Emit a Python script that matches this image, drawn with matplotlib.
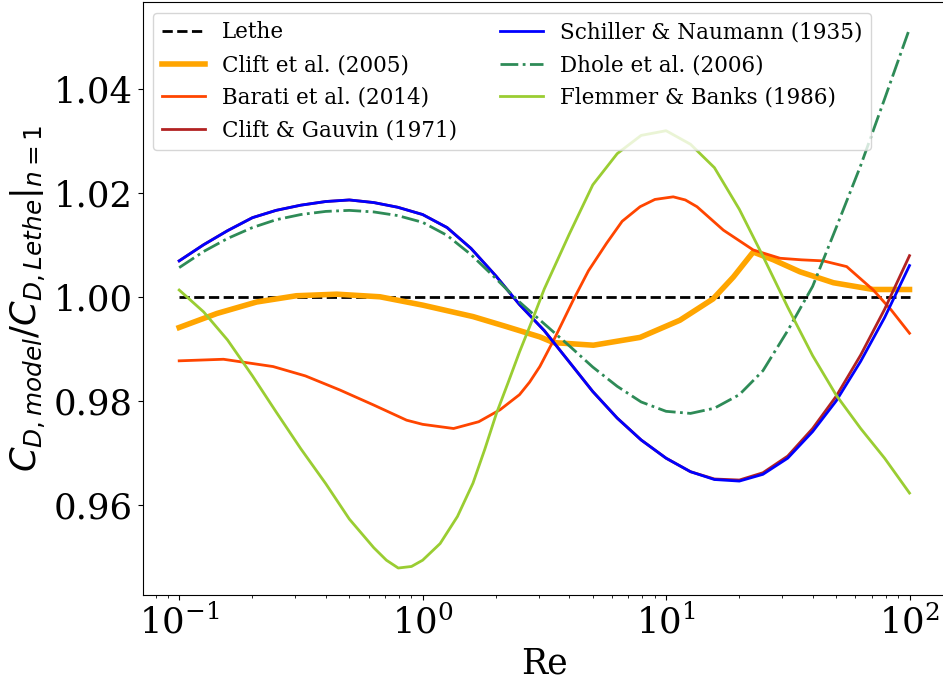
import numpy as np
import matplotlib
matplotlib.use('Agg')
import matplotlib.pyplot as plt

plt.rcParams['font.family'] = 'serif'

# Drag coefficient ratios C_D,model / C_D,Lethe for n = 1
re_lethe = [0.1, 100.0]
cd_lethe = [1.0, 1.0]

re_clift05 = [0.1, 0.143, 0.208, 0.303, 0.444, 0.668, 1.0, 1.61, 2.2, 3.03, 3.45, 5.03,
              7.82, 11.4, 15.6, 18.9, 22.8, 27.6, 35.5, 48.7, 71.0, 100.0]
cd_clift05 = [0.9941, 0.9968, 0.9990, 1.0002, 1.0005, 1.0000, 0.9984, 0.9962, 0.9943,
              0.9923, 0.9912, 0.9907, 0.9922, 0.9955, 0.9996, 1.0038, 1.0086, 1.0071,
              1.0048, 1.0027, 1.0014, 1.0014]

re_barati = [0.1, 0.152, 0.243, 0.33, 0.457, 0.63, 0.859, 1.0, 1.34, 1.7, 2.08, 2.5,
             2.75, 3.03, 3.5, 4.16, 4.8, 5.7, 6.6, 7.82, 9.0, 10.7, 12.0, 13.4, 17.2,
             22.8, 29.4, 36.0, 44.2, 55.2, 71.0, 84.0, 100.0]
cd_barati = [0.9877, 0.9880, 0.9866, 0.9848, 0.9821, 0.9792, 0.9763, 0.9755, 0.9747,
             0.9760, 0.9783, 0.9812, 0.9836, 0.9866, 0.9922, 0.9994, 1.0050, 1.0103,
             1.0145, 1.0173, 1.0187, 1.0192, 1.0186, 1.0173, 1.0128, 1.0090, 1.0074,
             1.0071, 1.0069, 1.0058, 1.0013, 0.9975, 0.9930]

re_sn = [0.1, 0.126, 0.158, 0.2, 0.25, 0.316, 0.4, 0.5, 0.63, 0.79, 1.0, 1.26, 1.58,
         2.0, 2.5, 3.16, 4.0, 5.0, 6.3, 7.9, 10.0, 12.6, 15.8, 20.0, 25.0, 31.6, 40.0,
         50.0, 63.0, 79.0, 100.0]
cd_sn = [1.0069, 1.0100, 1.0127, 1.0152, 1.0166, 1.0176, 1.0183, 1.0186, 1.0181,
         1.0172, 1.0158, 1.0133, 1.0093, 1.0040, 0.9985, 0.9935, 0.9875, 0.9818,
         0.9767, 0.9725, 0.9690, 0.9664, 0.9649, 0.9646, 0.9659, 0.9690, 0.9741,
         0.9800, 0.9876, 0.9960, 1.0060]

re_cg = re_sn
cd_cg = [1.0069, 1.0100, 1.0127, 1.0152, 1.0166, 1.0176, 1.0183, 1.0186, 1.0181,
         1.0172, 1.0158, 1.0133, 1.0093, 1.0040, 0.9985, 0.9935, 0.9875, 0.9818,
         0.9767, 0.9725, 0.9690, 0.9664, 0.9650, 0.9648, 0.9662, 0.9694, 0.9747,
         0.9809, 0.9888, 0.9976, 1.0079]

re_dhole = re_sn
cd_dhole = [1.0056, 1.0087, 1.0112, 1.0133, 1.0148, 1.0158, 1.0164, 1.0166, 1.0163,
            1.0156, 1.0143, 1.0118, 1.0081, 1.0035, 0.9990, 0.9948, 0.9906, 0.9865,
            0.9828, 0.9798, 0.9780, 0.9776, 0.9786, 0.9812, 0.9858, 0.9935, 1.0020,
            1.0133, 1.0252, 1.0380, 1.0515]

re_flemmer = [0.1, 0.126, 0.158, 0.2, 0.25, 0.316, 0.4, 0.5, 0.63, 0.71, 0.794, 0.9,
              1.0, 1.18, 1.39, 1.61, 1.8, 2.01, 2.24, 2.5, 2.82, 3.16, 4.0, 5.0, 6.3,
              7.9, 10.0, 12.6, 15.8, 20.0, 25.0, 31.6, 40.0, 50.0, 63.0, 79.0, 100.0]
cd_flemmer = [1.0013, 0.9971, 0.9917, 0.9848, 0.9779, 0.9708, 0.9641, 0.9573, 0.9518,
              0.9494, 0.9479, 0.9482, 0.9494, 0.9526, 0.9578, 0.9642, 0.9707, 0.9776,
              0.9834, 0.9894, 0.9955, 1.0015, 1.0120, 1.0215, 1.0275, 1.0310, 1.0319,
              1.0293, 1.0248, 1.0168, 1.0078, 0.9980, 0.9887, 0.9811, 0.9747, 0.9690,
              0.9623]

fig = plt.figure(figsize=(9.43, 6.85), dpi=100)
ax = fig.add_axes([0.1513, 0.1314, 0.8519, 0.8661])

ax.plot(re_lethe, cd_lethe, color='k', ls='--', lw=2, label='Lethe')
ax.plot(re_clift05, cd_clift05, color='orange', lw=4, label='Clift et al. (2005)')
ax.plot(re_barati, cd_barati, color='orangered', lw=2, label='Barati et al. (2014)')
ax.plot(re_cg, cd_cg, color='firebrick', lw=2, label='Clift & Gauvin (1971)')
ax.plot(re_sn, cd_sn, color='blue', lw=2, label='Schiller & Naumann (1935)')
ax.plot(re_dhole, cd_dhole, color='seagreen', ls='-.', lw=2, label='Dhole et al. (2006)')
ax.plot(re_flemmer, cd_flemmer, color='yellowgreen', lw=2, label='Flemmer & Banks (1986)')

ax.set_xscale('log')
ax.set_xlabel('Re', fontsize=25)
ax.set_ylabel(r'$\left.C_{D,model}/C_{D,Lethe}\right|_{n=1}$', fontsize=25.5)
ax.tick_params(labelsize=25.5)
ax.legend(ncol=2, fontsize=15.5, loc='upper left',
          bbox_to_anchor=(153 / 943, 1 - 12.7 / 685),
          bbox_transform=fig.transFigure, borderaxespad=0)

fig.savefig('out.png', dpi=100)
